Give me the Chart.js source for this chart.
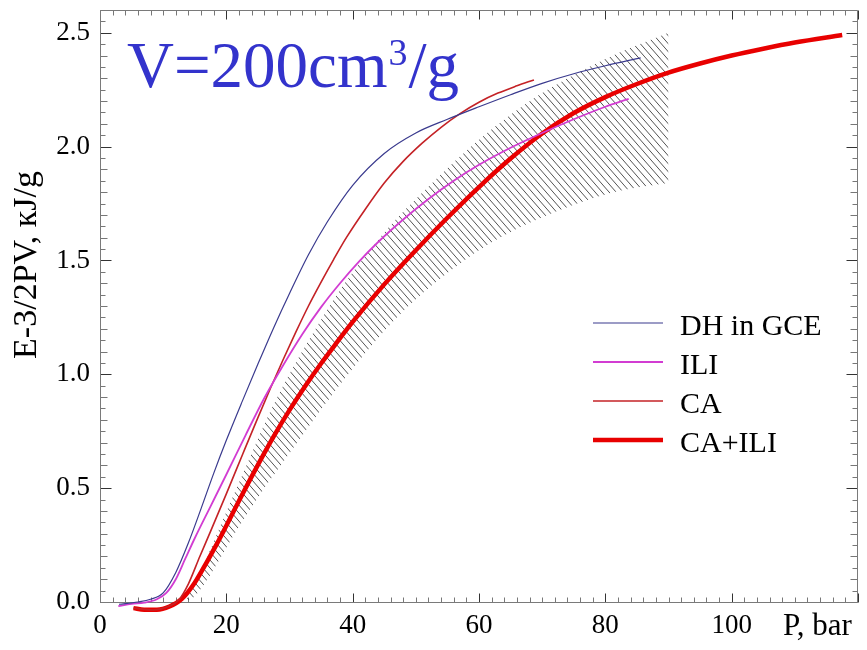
<!DOCTYPE html>
<html><head><meta charset="utf-8">
<script src="https://cdn.jsdelivr.net/npm/chart.js@4.4.0/dist/chart.umd.min.js"></script>
<style>html,body{margin:0;padding:0;background:#fff}#wrap{width:867px;height:650px}</style>
</head><body><div id="wrap"><canvas id="c" width="867" height="650"></canvas></div>
<script>
// ---- data ----
const dhP = [3, 6, 8, 10, 12, 14, 16, 18, 20, 22.5, 25, 27.5, 30, 33, 36, 40, 45, 50, 55, 60, 65, 70, 75, 80, 85.6];
const dhE = [-0.01, 0.0, 0.012, 0.04, 0.13, 0.26, 0.41, 0.565, 0.71, 0.88, 1.045, 1.205, 1.355, 1.525, 1.67, 1.83, 1.97, 2.06, 2.12, 2.175, 2.228, 2.278, 2.32, 2.355, 2.39];

const iliP = [2.9, 5, 7, 9, 10.5, 12, 13.5, 15, 17.5, 20, 23, 26, 29, 32, 35, 38, 41, 44, 48, 52, 56, 60, 65, 70, 75, 80, 83.7];
const iliE = [-0.018, -0.008, -0.003, 0.012, 0.04, 0.10, 0.19, 0.28, 0.42, 0.56, 0.73, 0.895, 1.04, 1.175, 1.295, 1.40, 1.495, 1.58, 1.68, 1.77, 1.85, 1.92, 1.995, 2.06, 2.12, 2.175, 2.21];

const caP = [5.3, 8.4, 11, 12.5, 14, 15.8, 17.5, 20, 22.6, 25, 27, 29, 31, 33, 35, 37, 39, 42, 45, 48, 51, 54, 57, 60, 63, 66, 68.7];
const caE = [-0.027, -0.035, -0.018, 0.01, 0.08, 0.20, 0.31, 0.475, 0.65, 0.81, 0.94, 1.065, 1.185, 1.30, 1.405, 1.505, 1.60, 1.725, 1.84, 1.935, 2.015, 2.085, 2.145, 2.195, 2.235, 2.267, 2.293];

const caIliP = [5.3, 7, 9, 11, 13, 15, 17, 18.5, 20, 22.5, 25, 27.5, 30, 32.5, 35, 37.5, 40, 45, 50, 55, 60, 65, 70, 75, 80, 85, 90, 95, 100, 105, 110, 117.5];
const caIliE = [-0.027, -0.034, -0.034, -0.02, 0.015, 0.085, 0.18, 0.255, 0.335, 0.471, 0.6025, 0.7275, 0.8425, 0.9485, 1.0475, 1.14, 1.23, 1.395, 1.545, 1.6875, 1.8225, 1.9475, 2.0575, 2.1475, 2.2175, 2.275, 2.325, 2.365, 2.40, 2.43, 2.457, 2.49];

const bandP = [13.5, 15, 17, 19, 21, 23.5, 26, 29, 32, 35, 38, 41, 44, 47, 50, 55, 60, 65, 70, 75, 80, 85, 90];
const bandUpper = [0.0, 0.08, 0.2, 0.33, 0.46, 0.62, 0.78, 0.95, 1.10, 1.24, 1.37, 1.485, 1.59, 1.685, 1.77, 1.905, 2.03, 2.14, 2.235, 2.315, 2.385, 2.445, 2.50];
const bandLower = [0.0, 0.025, 0.10, 0.19, 0.285, 0.395, 0.50, 0.615, 0.73, 0.845, 0.955, 1.06, 1.16, 1.25, 1.33, 1.445, 1.545, 1.625, 1.69, 1.745, 1.79, 1.82, 1.84];

const seriesNames = ['DH in GCE', 'ILI', 'CA', 'CA+ILI'];
const xTickValues = [0, 20, 40, 60, 80, 100];
const yTickValues = [0, 0.5, 1.0, 1.5, 2.0, 2.5];
const titleMain = 'V=200cm', titleSup = '3', titleTail = '/g';
const xTitle = 'P, bar';
const yTitle = 'E-3/2PV, кJ/g';

// ---- helpers ----
const SERIF = '"Liberation Serif", "DejaVu Serif", serif';
function pts(xs, ys) { return xs.map((x, i) => ({ x: x, y: ys[i] })); }

const canvas = document.getElementById('c');
const mainCtx = canvas.getContext('2d');
function makeHatch() {
  const w = 7, h = 8;
  const c = document.createElement('canvas');
  c.width = w; c.height = h;
  const g = c.getContext('2d');
  g.strokeStyle = '#404040';
  g.lineWidth = 0.9;
  g.beginPath();
  for (const k of [-1, 0, 1]) { g.moveTo(k * w, 0); g.lineTo(k * w + w, h); }
  g.stroke();
  return mainCtx.createPattern(c, 'repeat');
}

const lineStyle = (color, w) => ({
  borderColor: color, backgroundColor: color, borderWidth: w,
  pointRadius: 0, fill: false, cubicInterpolationMode: 'monotone', clip: false
});

const decor = {
  id: 'decor',
  beforeDraw(chart) {
    const ctx = chart.ctx;
    ctx.save(); ctx.fillStyle = '#fff'; ctx.fillRect(0, 0, chart.width, chart.height); ctx.restore();
  },
  beforeDatasetsDraw(chart) {
    const ctx = chart.ctx, a = chart.chartArea, xs = chart.scales.x, ys = chart.scales.y;
    ctx.save();
    ctx.lineWidth = 1;
    const L = Math.round(a.left) + 0.5, R = Math.round(a.right) - 0.5;
    const T = Math.round(a.top) + 0.5, B = Math.round(a.bottom) + 0.5;
    for (let k = 0; k <= 60; k++) {
      const v = k * 2;
      const px = Math.round(xs.getPixelForValue(v)) + 0.5;
      const major = (k % 10 === 0);
      const len = major ? 9 : 5;
      ctx.strokeStyle = major ? '#333' : '#777';
      ctx.beginPath();
      ctx.moveTo(px, B); ctx.lineTo(px, B - len);
      ctx.moveTo(px, T); ctx.lineTo(px, T + len);
      ctx.stroke();
    }
    for (let k = 0; k <= 52; k++) {
      const v = k * 0.05;
      const py = Math.round(ys.getPixelForValue(v)) + 0.5;
      const major = (k % 10 === 0);
      const len = major ? 11 : (k % 2 === 0 ? 7 : 5);
      ctx.strokeStyle = major ? '#333' : '#777';
      ctx.beginPath();
      ctx.moveTo(L, py); ctx.lineTo(L + len, py);
      ctx.moveTo(R, py); ctx.lineTo(R - len, py);
      ctx.stroke();
    }
    ctx.strokeStyle = '#7a7a7a';
    ctx.beginPath();
    ctx.moveTo(L, T); ctx.lineTo(R, T); ctx.lineTo(R, B); ctx.lineTo(L, B); ctx.closePath();
    ctx.stroke();
    ctx.restore();
  },
  afterDraw(chart) {
    const ctx = chart.ctx, a = chart.chartArea;
    ctx.save();
    ctx.fillStyle = '#3333cc';
    ctx.textBaseline = 'alphabetic';
    ctx.textAlign = 'left';
    ctx.font = '65px ' + SERIF;
    let x = a.left + 27, y = 87;
    ctx.fillText(titleMain, x, y);
    x += ctx.measureText(titleMain).width + 1;
    ctx.font = '38px ' + SERIF;
    ctx.fillText(titleSup, x, y - 22);
    x += ctx.measureText(titleSup).width + 1;
    ctx.font = '65px ' + SERIF;
    ctx.fillText(titleTail, x, y);

    ctx.fillStyle = '#000';
    ctx.font = '31px ' + SERIF;
    ctx.fillText(xTitle, 783, 635);
    ctx.save();
    ctx.translate(36, 265);
    ctx.rotate(-Math.PI / 2);
    ctx.textAlign = 'center';
    ctx.font = '34px ' + SERIF;
    ctx.fillText(yTitle, 0, 0);
    ctx.restore();

    const ds = chart.data.datasets;
    ctx.font = '30px ' + SERIF;
    ctx.textAlign = 'left';
    for (let i = 0; i < seriesNames.length; i++) {
      const ly = 323 + i * 39;
      ctx.strokeStyle = ds[i].borderColor;
      ctx.lineWidth = ds[i].borderWidth;
      ctx.beginPath(); ctx.moveTo(593, ly); ctx.lineTo(663, ly); ctx.stroke();
      ctx.fillStyle = '#000';
      ctx.fillText(seriesNames[i], 680, ly + 12);
    }
    ctx.restore();
  }
};

new Chart(canvas, {
  type: 'line',
  data: {
    datasets: [
      Object.assign({ label: seriesNames[0], data: pts(dhP, dhE) }, lineStyle('#3a3a8e', 1.2)),
      Object.assign({ label: seriesNames[1], data: pts(iliP, iliE) }, lineStyle('#d23cd2', 1.8)),
      Object.assign({ label: seriesNames[2], data: pts(caP, caE) }, lineStyle('#c42226', 1.6)),
      Object.assign({ label: seriesNames[3], data: pts(caIliP, caIliE) }, lineStyle('#e80000', 4.5)),
      { label: 'band lower', data: pts(bandP, bandLower), borderWidth: 0, borderColor: 'rgba(0,0,0,0)',
        pointRadius: 0, fill: false, cubicInterpolationMode: 'monotone' },
      { label: 'band upper', data: pts(bandP, bandUpper), borderWidth: 0, borderColor: 'rgba(0,0,0,0)',
        backgroundColor: makeHatch(), pointRadius: 0, fill: '-1', cubicInterpolationMode: 'monotone' }
    ]
  },
  options: {
    responsive: false,
    animation: false,
    events: [],
    layout: { padding: { top: 10, right: 9, left: 0, bottom: 0 } },
    plugins: { legend: { display: false }, tooltip: { enabled: false } },
    scales: {
      x: {
        type: 'linear', min: 0, max: 120,
        afterBuildTicks: s => { s.ticks = xTickValues.map(v => ({ value: v })); },
        afterFit: s => { s.height = 48; s.paddingLeft = 0; s.paddingRight = 0; },
        grid: { display: false, drawTicks: false },
        border: { display: false },
        ticks: { color: '#000', font: { family: SERIF, size: 27 }, padding: 8, maxRotation: 0, autoSkip: false,
                 callback: v => String(v) }
      },
      y: {
        type: 'linear', min: 0, max: 2.6,
        afterBuildTicks: s => { s.ticks = yTickValues.map(v => ({ value: v })); },
        afterFit: s => { s.width = 100; s.paddingTop = 0; s.paddingBottom = 0; },
        grid: { display: false, drawTicks: false },
        border: { display: false },
        ticks: { color: '#000', font: { family: SERIF, size: 27 }, padding: 10, autoSkip: false,
                 callback: v => Number(v).toFixed(1) }
      }
    }
  },
  plugins: [decor]
});
</script>
</body></html>
